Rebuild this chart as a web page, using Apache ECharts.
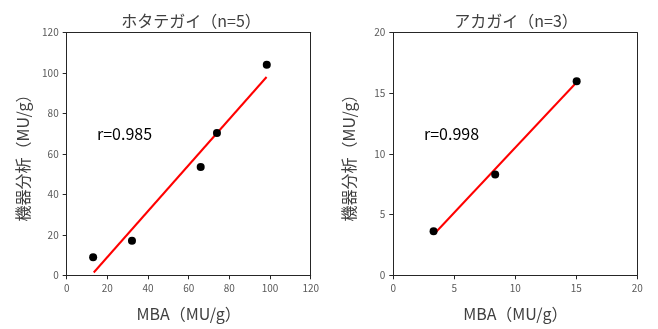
<!DOCTYPE html>
<html><head><meta charset="utf-8">
<script src="https://cdn.jsdelivr.net/npm/echarts@6/dist/echarts.min.js"></script>
<style>html,body{margin:0;padding:0;background:#fff}#c{width:658px;height:329px}</style>
</head><body><div id="c"></div>
<script>
// Left panel: ホタテガイ (n=5)
const titleA = 'ホタテガイ（n=5）';
const pointsA = [[13, 8.9], [32.1, 17.1], [65.9, 53.6], [73.9, 70.4], [98.4, 104.2]];
const trendA = [[13.3, 1.4], [98.3, 98.1]];
const rA = 'r=0.985';
const ticksA = [0, 20, 40, 60, 80, 100, 120];

// Right panel: アカガイ (n=3)
const titleB = 'アカガイ（n=3）';
const pointsB = [[3.3, 3.63], [8.35, 8.32], [15.03, 16.0]];
const trendB = [[3.33, 3.38], [14.97, 15.85]];
const rB = 'r=0.998';
const ticksB = [0, 5, 10, 15, 20];

const xName = 'MBA（MU/g）';
const yName = '機器分析（MU/g）';

const FONT = '"Noto Sans CJK JP", "Noto Sans", sans-serif';
const grids = [
  {left: 66.7, top: 32.7, width: 244, height: 242.6},
  {left: 393.3, top: 32.7, width: 244, height: 242.6}
];
function xAx(i, ticks) {
  return {
    gridIndex: i, type: 'value', min: ticks[0], max: ticks[ticks.length - 1],
    interval: ticks[1] - ticks[0],
    name: xName, nameLocation: 'middle', nameGap: 31,
    nameTextStyle: {fontFamily: FONT, fontSize: 16, color: '#404040'},
    axisLine: {show: true, onZero: false, lineStyle: {color: '#262626', width: 1}},
    axisTick: {show: true, inside: false, length: 4, lineStyle: {color: '#262626'}},
    axisLabel: {fontFamily: FONT, fontSize: 10, color: '#595959', margin: 8},
    splitLine: {show: false}
  };
}
function yAx(i, ticks) {
  return {
    gridIndex: i, type: 'value', min: ticks[0], max: ticks[ticks.length - 1],
    interval: ticks[1] - ticks[0],
    name: yName, nameLocation: 'middle', nameGap: 36, nameRotate: 90,
    nameTextStyle: {fontFamily: FONT, fontSize: 16, color: '#404040'},
    axisLine: {show: true, onZero: false, lineStyle: {color: '#262626', width: 1}},
    axisTick: {show: true, inside: false, length: 4, lineStyle: {color: '#262626'}},
    axisLabel: {fontFamily: FONT, fontSize: 10, color: '#595959', margin: 8},
    splitLine: {show: false}
  };
}
// top/right frame lines via secondary axes without labels
function frameX(i) {
  return {gridIndex: i, type: 'value', position: 'top', axisLine: {show: true, onZero: false, lineStyle: {color: '#262626'}},
    axisTick: {show: false}, axisLabel: {show: false}, splitLine: {show: false}};
}
function frameY(i) {
  return {gridIndex: i, type: 'value', position: 'right', axisLine: {show: true, onZero: false, lineStyle: {color: '#262626'}},
    axisTick: {show: false}, axisLabel: {show: false}, splitLine: {show: false}};
}

const chart = echarts.init(document.getElementById('c'), null, {renderer: 'canvas'});
chart.setOption({
  animation: false,
  backgroundColor: '#fff',
  title: [
    {text: titleA, left: 186, top: 8, textAlign: 'center', textStyle: {fontFamily: FONT, fontSize: 16, fontWeight: 'normal', color: '#404040'}},
    {text: titleB, left: 511, top: 8, textAlign: 'center', textStyle: {fontFamily: FONT, fontSize: 16, fontWeight: 'normal', color: '#404040'}}
  ],
  grid: grids,
  xAxis: [xAx(0, ticksA), xAx(1, ticksB), frameX(0), frameX(1)],
  yAxis: [yAx(0, ticksA), yAx(1, ticksB), frameY(0), frameY(1)],
  series: [
    {type: 'line', xAxisIndex: 0, yAxisIndex: 0, data: trendA, symbol: 'none',
      lineStyle: {color: '#ff0000', width: 2}, z: 2},
    {type: 'scatter', xAxisIndex: 0, yAxisIndex: 0, data: pointsA, symbolSize: 8,
      itemStyle: {color: '#000', opacity: 1}, z: 3},
    {type: 'line', xAxisIndex: 1, yAxisIndex: 1, data: trendB, symbol: 'none',
      lineStyle: {color: '#ff0000', width: 2}, z: 2},
    {type: 'scatter', xAxisIndex: 1, yAxisIndex: 1, data: pointsB, symbolSize: 8,
      itemStyle: {color: '#000', opacity: 1}, z: 3}
  ],
  graphic: [
    {type: 'text', left: 97, top: 126, style: {text: rA, font: '16px ' + FONT, fill: '#000'}},
    {type: 'text', left: 424, top: 126, style: {text: rB, font: '16px ' + FONT, fill: '#000'}}
  ]
});
</script></body></html>
